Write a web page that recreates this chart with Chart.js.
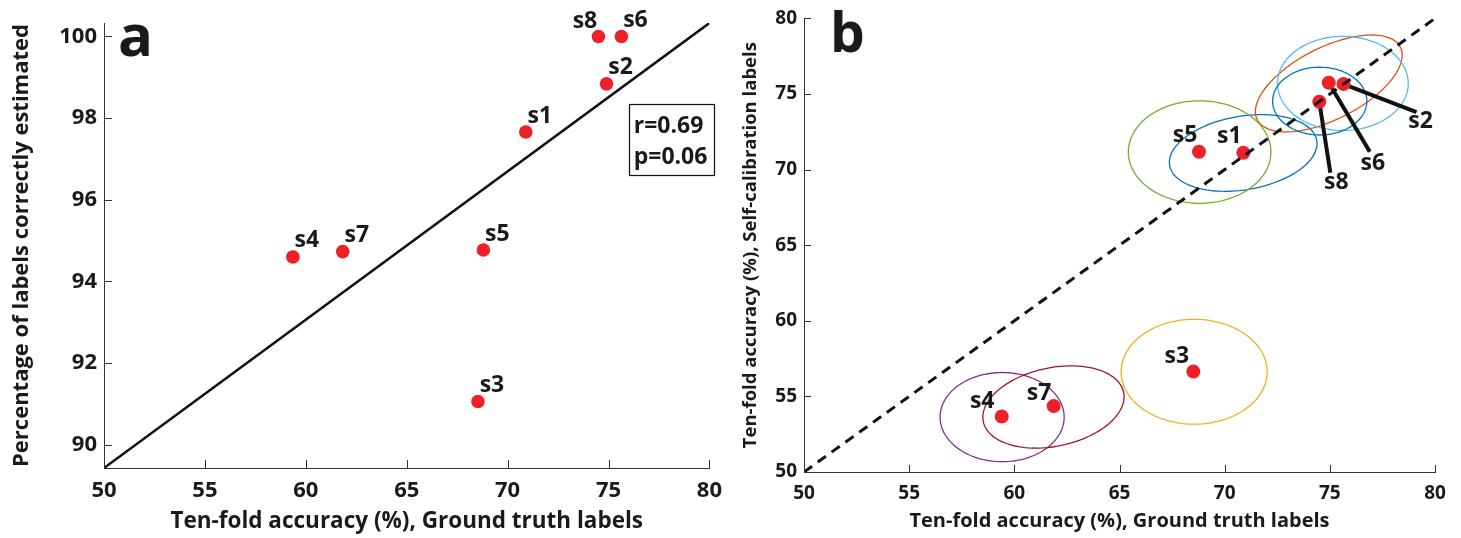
<!DOCTYPE html>
<html>
<head>
<meta charset="utf-8">
<script src="https://cdn.jsdelivr.net/npm/chart.js@4.4.1/dist/chart.umd.min.js"></script>
<style>
  html, body { margin: 0; padding: 0; background: #fff; }
  #wrap { position: relative; width: 1461px; height: 538px; }
  #wa { position: absolute; left: 0; top: 0; width: 732px; height: 538px; }
  #wb { position: absolute; left: 732px; top: 0; width: 729px; height: 538px; }
</style>
</head>
<body>
<div id="wrap">
  <div id="wa"><canvas id="chartA"></canvas></div>
  <div id="wb"><canvas id="chartB"></canvas></div>
</div>
<script>
// panel a
const subjectsA = ['s1', 's2', 's3', 's4', 's5', 's6', 's7', 's8'];
const groundTruthAccA = [70.9, 74.9, 68.53, 59.36, 68.8, 75.64, 61.83, 74.5];
const labelsCorrect = [97.66, 98.84, 91.06, 94.6, 94.77, 100, 94.73, 100];
const fitX = [50, 80];
const fitY = [89.43, 100.33];
const statsText = ['r=0.69', 'p=0.06'];
const xTicksA = [50, 55, 60, 65, 70, 75, 80];
const yTicksA = [90, 92, 94, 96, 98, 100];

// panel b
const subjectsB = ['s1', 's2', 's3', 's4', 's5', 's6', 's7', 's8'];
const groundTruthAccB = [70.89, 75.65, 68.51, 59.4, 68.78, 74.95, 61.87, 74.5];
const selfCalAcc = [71.11, 75.66, 56.64, 53.67, 71.18, 75.74, 54.36, 74.49];
const diagX = [50, 80];
const diagY = [50, 80];
const xTicksB = [50, 55, 60, 65, 70, 75, 80];
const yTicksB = [50, 55, 60, 65, 70, 75, 80];

// confidence ellipses (panel b), data units
const ellCx = [70.88, 74.95, 68.55, 59.42, 68.81, 75.62, 61.86, 74.52];
const ellCy = [71.1, 75.7, 56.63, 53.63, 71.16, 75.7, 54.3, 74.53];
const ellA = [3.61, 4.22, 3.47, 2.95, 3.39, 3.11, 3.51, 2.24];
const ellB = [2.39, 2.15, 3.47, 2.95, 3.39, 3.11, 2.52, 2.24];
const ellDeg = [18.2, 40.8, 0, 0, 0, 0, 24.7, 0];
const ellColors = ['#0072BD', '#D95319', '#EDB120', '#7E2F8E', '#77AC30', '#4DBEEE', '#A2142F', '#0072BD'];

const RED = 'rgb(238,32,40)';
const INK = '#1a1a1a';
const FONT = '"Open Sans", "Noto Sans", sans-serif';
const LETTER_FONT = '"Liberation Sans Narrow", "Open Sans", sans-serif';

const inwardTicks = {
  id: 'inwardTicks',
  afterDraw(chart, args, opts) {
    const { ctx, chartArea: ca, scales: { x, y } } = chart;
    const len = opts.length || 8;
    ctx.save();
    ctx.strokeStyle = '#333';
    ctx.lineWidth = 1;
    ctx.beginPath();
    x.ticks.forEach(t => {
      const px = Math.round(x.getPixelForValue(t.value)) + 0.5;
      ctx.moveTo(px, ca.bottom);
      ctx.lineTo(px, ca.bottom - len);
    });
    y.ticks.forEach(t => {
      const py = Math.round(y.getPixelForValue(t.value)) + 0.5;
      ctx.moveTo(ca.left, py);
      ctx.lineTo(ca.left + len, py);
    });
    ctx.stroke();
    ctx.restore();
  }
};

// point labels, optional leader lines, panel letter, stats box
const annotate = {
  id: 'annotate',
  beforeDatasetsDraw(chart, args, opts) {
    const { ctx, scales: { x, y } } = chart;
    if (opts.ellipses) {
      ctx.save();
      ctx.lineWidth = 1.3;
      opts.ellipses.cx.forEach((cx, i) => {
        const th = opts.ellipses.deg[i] * Math.PI / 180;
        const a = opts.ellipses.a[i], b = opts.ellipses.b[i], cy = opts.ellipses.cy[i];
        ctx.strokeStyle = opts.ellipses.colors[i];
        ctx.beginPath();
        for (let k = 0; k <= 120; k++) {
          const t = k / 120 * 2 * Math.PI;
          const dx = a * Math.cos(t) * Math.cos(th) - b * Math.sin(t) * Math.sin(th);
          const dy = a * Math.cos(t) * Math.sin(th) + b * Math.sin(t) * Math.cos(th);
          const px = x.getPixelForValue(cx + dx), py = y.getPixelForValue(cy + dy);
          if (k === 0) ctx.moveTo(px, py); else ctx.lineTo(px, py);
        }
        ctx.stroke();
      });
      ctx.restore();
    }
    if (opts.leaders) {
      const meta = chart.getDatasetMeta(opts.pointsIndex);
      ctx.save();
      ctx.strokeStyle = '#111';
      ctx.lineWidth = 4;
      Object.keys(opts.leaders).forEach(k => {
        const i = opts.names.indexOf(k);
        const p = meta.data[i];
        const l = opts.leaders[k];
        ctx.beginPath();
        ctx.moveTo(p.x, p.y);
        ctx.lineTo(p.x + l[0], p.y + l[1]);
        ctx.stroke();
      });
      ctx.restore();
    }
  },
  afterDatasetsDraw(chart, args, opts) {
    const { ctx, chartArea: ca, scales: { x, y } } = chart;
    const meta = chart.getDatasetMeta(opts.pointsIndex);
    ctx.save();
    ctx.fillStyle = INK;
    ctx.font = 'bold ' + opts.labelSize + 'px ' + FONT;
    ctx.textAlign = 'center';
    ctx.textBaseline = 'middle';
    opts.names.forEach((n, i) => {
      const p = meta.data[i];
      const off = (opts.offsets && opts.offsets[n]) || opts.defaultOffset;
      ctx.fillText(n, p.x + off[0], p.y + off[1]);
    });
    // panel letter
    ctx.textAlign = 'left';
    ctx.textBaseline = 'alphabetic';
    ctx.font = 'bold ' + opts.letterSize + 'px ' + LETTER_FONT;
    ctx.fillText(opts.letter, ca.left + opts.letterPos[0], ca.top + opts.letterPos[1]);
    if (opts.stats) {
      const bx = x.getPixelForValue(opts.stats.at[0]);
      const by = y.getPixelForValue(opts.stats.at[1]);
      ctx.strokeStyle = '#111';
      ctx.lineWidth = 1.2;
      ctx.strokeRect(Math.round(bx) + 0.5, Math.round(by) + 0.5, opts.stats.w, opts.stats.h);
      ctx.font = 'bold 23px ' + FONT;
      ctx.textBaseline = 'middle';
      opts.stats.lines.forEach((s, i) => ctx.fillText(s, bx + 5, by + 22 + i * 31));
    }
    ctx.restore();
  }
};

function axes(xTicks, yTicks, min, max, yw, xh, titles, tickSize, titleSizes, ypad, xtitlePad, ytitlePad) {
  const tickFont = { family: FONT, size: tickSize, weight: 'bold' };
  return {
    x: {
      type: 'linear', min: min[0], max: max[0],
      afterBuildTicks: s => { s.ticks = xTicks.map(v => ({ value: v })); },
      afterFit: s => { s.height = xh; },
      grid: { display: false, drawTicks: false },
      border: { display: true, color: '#333', width: 1 },
      ticks: { font: tickFont, color: INK, padding: 10, maxRotation: 0, autoSkip: false },
      title: { display: true, text: titles[0], font: { family: FONT, size: titleSizes[0], weight: 'bold' },
               color: INK, padding: { top: 0, bottom: xtitlePad } }
    },
    y: {
      type: 'linear', min: min[1], max: max[1],
      afterBuildTicks: s => { s.ticks = yTicks.map(v => ({ value: v })); },
      afterFit: s => { s.width = yw; },
      grid: { display: false, drawTicks: false },
      border: { display: true, color: '#333', width: 1 },
      ticks: { font: tickFont, color: INK, padding: ypad, autoSkip: false },
      title: { display: true, text: titles[1], font: { family: FONT, size: titleSizes[1], weight: 'bold' },
               color: INK, padding: { top: ytitlePad, bottom: 0 } }
    }
  };
}

new Chart(document.getElementById('chartA'), {
  type: 'scatter',
  data: {
    datasets: [
      {
        data: groundTruthAccA.map((v, i) => ({ x: v, y: labelsCorrect[i] })),
        pointRadius: 6.8, pointBackgroundColor: RED, pointBorderWidth: 0
      },
      {
        type: 'line',
        data: fitX.map((v, i) => ({ x: v, y: fitY[i] })),
        borderColor: '#111', borderWidth: 2.5, pointRadius: 0, fill: false, tension: 0
      }
    ]
  },
  options: {
    responsive: true, maintainAspectRatio: false, animation: false,
    layout: { padding: { left: 0, top: 23, right: 19, bottom: 0 } },
    plugins: {
      legend: { display: false }, tooltip: { enabled: false },
      inwardTicks: { length: 8 },
      annotate: {
        pointsIndex: 0, names: subjectsA, labelSize: 23,
        defaultOffset: [14, -16], offsets: { s8: [-13.5, -15] },
        letter: 'a', letterSize: 58, letterPos: [14, 33],
        stats: { at: [76.0, 98.34], w: 85, h: 71, lines: statsText }
      }
    },
    scales: axes(xTicksA, yTicksA, [50, 89.43], [80, 100.33], 104, 70,
      ['Ten-fold accuracy (%), Ground truth labels', 'Percentage of labels correctly estimated'],
      22, [22.5, 22], 7, 2.5, 9)
  },
  plugins: [inwardTicks, annotate]
});

new Chart(document.getElementById('chartB'), {
  type: 'scatter',
  data: {
    datasets: [
      {
        type: 'line',
        data: diagX.map((v, i) => ({ x: v, y: diagY[i] })),
        borderColor: '#111', borderWidth: 3, borderDash: [10, 7], pointRadius: 0, fill: false
      },
      {
        data: groundTruthAccB.map((v, i) => ({ x: v, y: selfCalAcc[i] })),
        pointRadius: 7, pointBackgroundColor: RED, pointBorderWidth: 0
      }
    ]
  },
  options: {
    responsive: true, maintainAspectRatio: false, animation: false,
    layout: { padding: { left: 0, top: 18, right: 26, bottom: 0 } },
    plugins: {
      legend: { display: false }, tooltip: { enabled: false },
      inwardTicks: { length: 7 },
      annotate: {
        pointsIndex: 1, names: subjectsB, labelSize: 23,
        defaultOffset: [-14, -16],
        offsets: { s3: [-16.5, -15], s4: [-19.5, -15], s7: [-14.6, -13],
                   s2: [77, 37], s6: [44, 81], s8: [17, 81] },
        leaders: { s2: [73, 28], s6: [41, 69], s8: [11, 71] },
        ellipses: { cx: ellCx, cy: ellCy, a: ellA, b: ellB, deg: ellDeg, colors: ellColors },
        letter: 'b', letterSize: 55, letterPos: [26, 34]
      }
    },
    scales: axes(xTicksB, yTicksB, [50, 50], [80, 80], 72, 66,
      ['Ten-fold accuracy (%), Ground truth labels', 'Ten-fold accuracy (%), Self-calibration labels'],
      19, [20, 18.5], 7, 5, 7.5)
  },
  plugins: [inwardTicks, annotate]
});
</script>
</body>
</html>
